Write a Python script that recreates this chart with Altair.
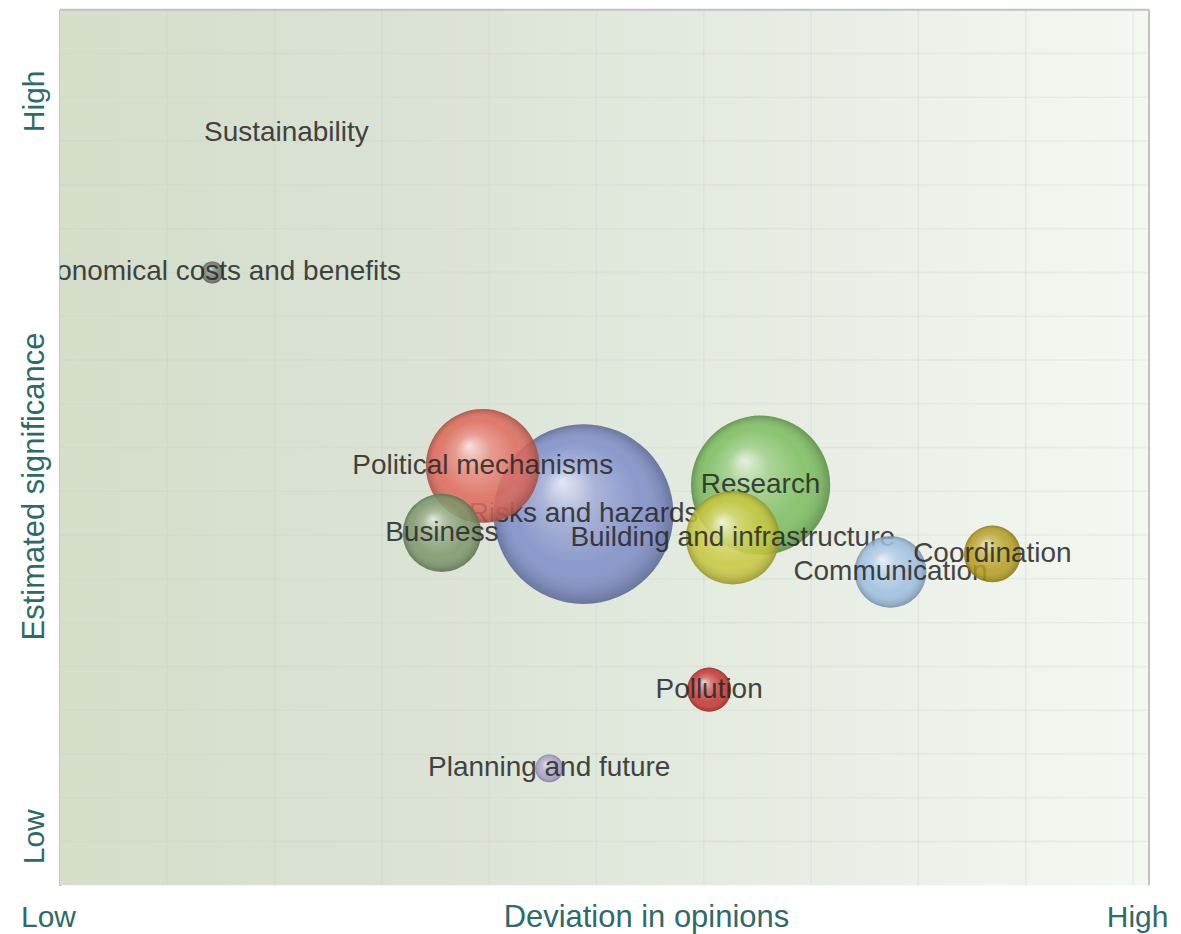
import altair as alt
import pandas as pd

# ---- data ----
names = ["Risks and hazards", "Research", "Political mechanisms",
         "Building and infrastructure", "Business", "Communication",
         "Coordination", "Pollution", "Planning and future",
         "Economical costs and benefits", "Sustainability"]
deviation = [4.88, 6.53, 3.94, 6.27, 3.56, 7.74, 8.69, 6.05, 4.56, 1.42, 2.11]
significance = [8.48, 9.14, 9.58, 7.94, 8.05, 7.16, 7.57, 4.47, 2.67, 14.00, 17.19]
weight = [100, 60, 40, 27, 19, 16, 10, 6, 2.4, 1.5, 0]

x_domain = [0, 10.15]
y_domain = [0, 20]
grid_x = [1, 2, 3, 4, 5, 6, 7, 8, 9, 10]
grid_y = list(range(1, 20))
x_label_pos = [0, 10.15]
y_label_pos = [1.12, 17.92]

# ---- styles ----
bubble_colors = ["#7d8cc8", "#7bbd5e", "#e0685a", "#c8c83c", "#7d966b",
                 "#9dbfe0", "#b39b1c", "#c4322c", "#a99cc4", "#6f7470", "#888888"]
teal = "#2f6a6a"
axis_font = "Liberation Sans"
label_font = "Liberation Sans"

df = pd.DataFrame({"name": names, "dev": deviation, "sig": significance, "weight": weight})
frame = pd.DataFrame({"dev": [x_domain[0]], "dev_end": [x_domain[1]],
                      "sig": [y_domain[0]], "sig_end": [y_domain[1]]})
vgrid = pd.DataFrame({"dev": grid_x, "sig": [y_domain[0]] * len(grid_x),
                      "sig_end": [y_domain[1]] * len(grid_x)})
hgrid = pd.DataFrame({"sig": grid_y, "dev": [x_domain[0]] * len(grid_y),
                      "dev_end": [x_domain[1]] * len(grid_y)})
top_border = pd.DataFrame({"sig": [y_domain[1]], "dev": [x_domain[0]], "dev_end": [x_domain[1]]})
right_border = pd.DataFrame({"dev": [x_domain[1]], "sig": [y_domain[0]], "sig_end": [y_domain[1]]})

x_axis = alt.Axis(values=x_label_pos, labelExpr="datum.value < 5 ? 'Low' : 'High'",
                  labelOffset=-12, labelAlign="center", labelBaseline="alphabetic",
                  labelFlush=False, labelPadding=41, ticks=False, domain=False, grid=False,
                  labelFont=axis_font, labelFontSize=30, labelColor=teal,
                  title="Deviation in opinions", titleX=587, titleY=41,
                  titleAlign="center", titleBaseline="alphabetic",
                  titleFont=axis_font, titleFontSize=31, titleColor=teal,
                  titleFontWeight="normal")
y_axis = alt.Axis(values=y_label_pos, labelExpr="datum.value < 10 ? 'Low' : 'High'",
                  labelAngle=270, labelAlign="center", labelBaseline="alphabetic",
                  labelFlush=False, labelPadding=16, ticks=False, domain=True,
                  domainColor="#9a9a9a", domainWidth=2, grid=False,
                  labelFont=axis_font, labelFontSize=30, labelColor=teal,
                  title="Estimated significance", titleAngle=270, titleX=-16, titleY=477,
                  titleAlign="center", titleBaseline="alphabetic",
                  titleFont=axis_font, titleFontSize=31, titleColor=teal,
                  titleFontWeight="normal")

xs = alt.Scale(domain=x_domain, nice=False, zero=False)
ys = alt.Scale(domain=y_domain, nice=False, zero=False)
X = alt.X("dev:Q", scale=xs, axis=x_axis)
Y = alt.Y("sig:Q", scale=ys, axis=y_axis)
size_scale = alt.Scale(domain=[0, 100], range=[0, 32400])
color_scale = alt.Scale(domain=names, range=bubble_colors)

bg_grad = alt.LinearGradient(
    gradient="linear", x1=0, y1=0, x2=1, y2=0,
    stops=[alt.GradientStop(offset=0, color="#d5dfca"),
           alt.GradientStop(offset=0.3, color="#dae2d4"),
           alt.GradientStop(offset=0.55, color="#e2e9de"),
           alt.GradientStop(offset=1, color="#f4f8f2")])

shine = alt.RadialGradient(
    gradient="radial", x1=0.38, y1=0.32, r1=0, x2=0.5, y2=0.5, r2=0.5,
    stops=[alt.GradientStop(offset=0, color="rgba(255,255,255,0.85)"),
           alt.GradientStop(offset=0.3, color="rgba(255,255,255,0.3)"),
           alt.GradientStop(offset=0.7, color="rgba(255,255,255,0)"),
           alt.GradientStop(offset=0.92, color="rgba(0,0,0,0.12)"),
           alt.GradientStop(offset=1, color="rgba(0,0,0,0.25)")])

background = alt.Chart(frame).mark_rect(fill=bg_grad, strokeWidth=0).encode(
    x=X, x2="dev_end:Q", y=Y, y2="sig_end:Q")
vlines = alt.Chart(vgrid).mark_rule(color="#c9d2c4", opacity=0.28, strokeWidth=1.5).encode(
    x=X, y=Y, y2="sig_end:Q")
hlines = alt.Chart(hgrid).mark_rule(color="#c9d2c4", opacity=0.28, strokeWidth=1.5).encode(
    y=Y, x=X, x2="dev_end:Q")
top_line = alt.Chart(top_border).mark_rule(color="#c2c2c2", strokeWidth=2).encode(
    y=Y, x=X, x2="dev_end:Q")
right_line = alt.Chart(right_border).mark_rule(color="#c2c2c2", strokeWidth=2).encode(
    x=X, y=Y, y2="sig_end:Q")

layers = [background, vlines, hlines]
for n in names:
    base = alt.Chart(df).transform_filter(alt.datum.name == n)
    sz = alt.Size("weight:Q", scale=size_scale, legend=None)
    bubble = base.mark_circle(opacity=0.86, strokeWidth=0).encode(
        x=X, y=Y, size=sz, color=alt.Color("name:N", scale=color_scale, legend=None))
    gloss = base.mark_circle(fill=shine, opacity=0.9, strokeWidth=0).encode(
        x=X, y=Y, size=sz)
    label = base.mark_text(font=label_font, fontSize=28, color="#262626", opacity=0.85,
                           align="center", baseline="middle", clip=True).encode(
        x=X, y=Y, text="name:N")
    layers += [bubble, gloss, label]
layers += [top_line, right_line]

chart = alt.layer(*layers).properties(
    width=1091, height=877,
    padding={"left": 11, "top": 0, "right": 5, "bottom": 5},
).configure_view(stroke=None)

chart.save("out.html", embed_options={"renderer": "svg", "actions": False})
